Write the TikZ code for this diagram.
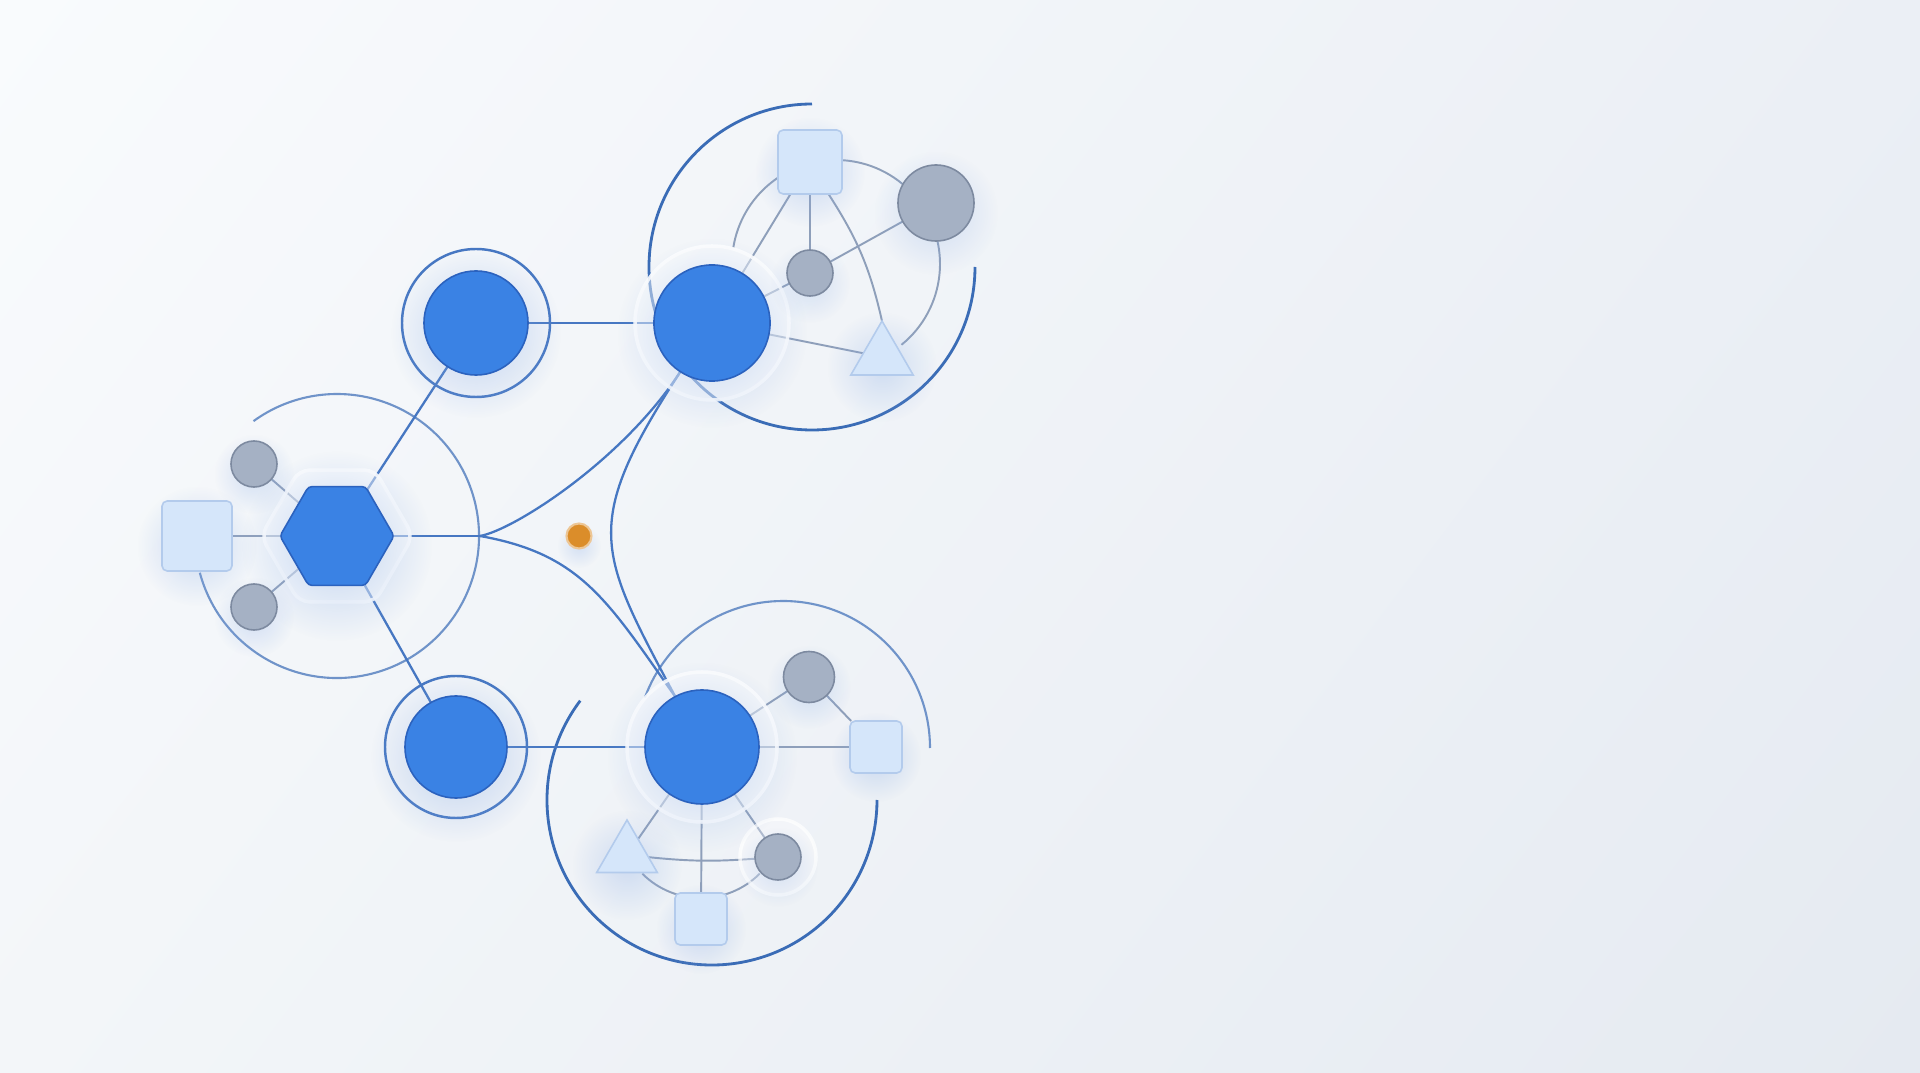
\documentclass[tikz,border=0pt]{standalone}
\usepackage{tikz}
\usetikzlibrary{shapes.geometric}
\usetikzlibrary{fadings}
\usetikzlibrary{shadings}

\definecolor{bgul}{HTML}{F9FBFD}
\definecolor{bgur}{HTML}{EBEFF5}
\definecolor{bgll}{HTML}{F3F6F9}
\definecolor{bglr}{HTML}{E5EAF1}
\definecolor{nodeblue}{HTML}{3A82E4}
\definecolor{nodeedge}{HTML}{2B62BE}
\definecolor{wireblue}{HTML}{4677C2}
\definecolor{orbitblue}{HTML}{3A6CB6}
\definecolor{orbitlight}{HTML}{6F93C9}
\definecolor{graylink}{HTML}{8E9FBA}
\definecolor{grayfill}{HTML}{A5B1C4}
\definecolor{grayedge}{HTML}{7D8AA0}
\definecolor{boxfill}{HTML}{D5E6FA}
\definecolor{boxedge}{HTML}{B3CBEC}
\definecolor{coreorange}{HTML}{DB8D2A}
\definecolor{glowblue}{HTML}{8FB0E6}

\tikzfading[name=softglow, inner color=transparent!0, outer color=transparent!100]

\pgfdeclarelayer{backdrop}
\pgfdeclarelayer{wires}
\pgfdeclarelayer{glow}
\pgfsetlayers{backdrop,wires,glow,main}

\begin{document}
\begin{tikzpicture}[x=0.01cm, y=0.01cm,
  every node/.style = {inner sep=0pt, outer sep=0pt},
  bluedot/.style = {circle, fill=nodeblue, draw=nodeedge, line width=0.45pt, minimum size=#1},
  hexnode/.style = {regular polygon, regular polygon sides=6, fill=nodeblue, draw=nodeedge,
                    line width=0.45pt, rounded corners=1pt, minimum size=1.14cm},
  graydot/.style = {circle, fill=grayfill, draw=grayedge, line width=0.45pt, minimum size=#1},
  lightbox/.style = {rectangle, rounded corners=1.5pt, fill=boxfill, draw=boxedge,
                     line width=0.45pt, minimum size=#1},
  lighttri/.style = {regular polygon, regular polygon sides=3, fill=boxfill, draw=boxedge,
                     line width=0.45pt, minimum size=#1},
  coredot/.style = {circle, fill=coreorange, draw=coreorange!50!white, line width=0.6pt, minimum size=0.25cm},
  wire/.style = {draw=wireblue, line width=0.65pt},
  spoke/.style = {draw=graylink, line width=0.55pt},
  orbit/.style = {draw=orbitblue, line width=0.8pt},
  faintorbit/.style = {draw=orbitlight, line width=0.6pt},
  ring/.style = {draw=wireblue, line width=0.7pt},
  halo/.style = {fill=white, fill opacity=0.45, draw=white, draw opacity=0.9, line width=1pt}]

  \useasboundingbox (0,0) rectangle (1920,1072);
  \begin{pgfonlayer}{backdrop}
    \shade[upper left=bgul, upper right=bgur, lower left=bgll, lower right=bglr] (0,0) rectangle (1920,1072);
  \end{pgfonlayer}

  \node (hub) [hexnode] at (337,536) {};
  \node (s1) [lightbox=0.70cm] at (197,536) {};
  \node (g1) [graydot=0.46cm] at (254,608) {};
  \node (g2) [graydot=0.46cm] at (254,465) {};
  \node (ul) [bluedot=1.04cm] at (476,749) {};
  \node (ll) [bluedot=1.02cm] at (456,325) {};
  \coordinate (J) at (480,536);
  \node (core) [coredot] at (579,536) {};

  \node (tb) [bluedot=1.16cm] at (712,749) {};
  \node (s2) [lightbox=0.64cm] at (810,910) {};
  \node (g3) [graydot=0.76cm] at (936,869) {};
  \node (g4) [graydot=0.46cm] at (810,799) {};
  \node (t1) [lighttri=0.72cm] at (882,715) {};

  \node (bb) [bluedot=1.14cm] at (702,325) {};
  \node (g5) [graydot=0.51cm] at (809,395) {};
  \node (s3) [lightbox=0.52cm] at (876,325) {};
  \node (t2) [lighttri=0.70cm] at (627,217) {};
  \node (g6) [graydot=0.46cm] at (778,215) {};
  \node (s4) [lightbox=0.52cm] at (701,153) {};

  \begin{pgfonlayer}{wires}
    \draw[faintorbit] (hub.center) ++(-165:142) arc[start angle=-165, end angle=126, radius=142];
    \draw[orbit] (812,805) ++(90:163) arc[start angle=90, end angle=360, radius=163];
    \draw[spoke] (836,808) ++(-51:104) arc[start angle=-51, end angle=171, radius=104];
    \draw[faintorbit] (783,324) ++(0:147) arc[start angle=0, end angle=160, radius=147];
    \draw[orbit] (712,272) ++(143:165) arc[start angle=143, end angle=360, radius=165];
    \draw[spoke] (701,257) ++(-135:83) arc[start angle=-135, end angle=-45, radius=83];
    \draw[ring] (ul) circle (74);
    \draw[ring] (ll) circle (71);

    \draw[spoke] (hub) -- (s1);
    \draw[spoke] (hub) -- (g1);
    \draw[spoke] (hub) -- (g2);
    \draw[wire] (hub) -- (ul);
    \draw[wire] (hub) -- (ll);
    \draw[wire] (hub) -- (J);
    \draw[wire] (ul) -- (tb);
    \draw[wire] (ll) -- (bb);
    \draw[wire] (J) .. controls (514,542) and (623,612) .. (tb.-123);
    \draw[wire] (J) .. controls (581,518) and (607,472) .. (bb.118);
    \draw[wire] (tb.-123) .. controls (580,546) and (598,521) .. (bb.118);

    \draw[spoke] (s2) -- (g4);
    \draw[spoke] (s2) -- (tb);
    \draw[spoke] (s2.-60) to[bend left=10] (t1.north);
    \draw[spoke] (g4) -- (g3);
    \draw[spoke] (g4) -- (tb);
    \draw[spoke] (tb) -- (t1);

    \draw[spoke] (bb) -- (g5);
    \draw[spoke] (g5) -- (s3);
    \draw[spoke] (bb) -- (s3);
    \draw[spoke] (bb) -- (t2);
    \draw[spoke] (bb) -- (s4);
    \draw[spoke] (bb) -- (g6);
    \draw[spoke] (t2) to[bend right=5] (g6);
  \end{pgfonlayer}

  \begin{pgfonlayer}{glow}
    \draw[halo] (tb) circle (77);
    \draw[halo] (bb) circle (75);
    \draw[halo, fill opacity=0.3, draw opacity=0.7] (g6) circle (38);
    \node[regular polygon, regular polygon sides=6, minimum size=1.52cm, rounded corners=3pt, halo] at (hub) {};
    \foreach \n/\r/\o in {hub/95/0.5, ul/85/0.5, ll/85/0.5, tb/95/0.45, bb/95/0.45,
                          s1/60/0.4, s2/55/0.4, s3/45/0.4, s4/45/0.4, t1/55/0.35, t2/55/0.35,
                          g1/40/0.35, g2/40/0.35, g3/62/0.35, g4/40/0.3, g5/42/0.35, g6/40/0.3, core/22/0.3}
      \fill[glowblue, fill opacity=\o, path fading=softglow] ([yshift=-0.1cm]\n) circle (\r);
  \end{pgfonlayer}
\end{tikzpicture}
\end{document}
